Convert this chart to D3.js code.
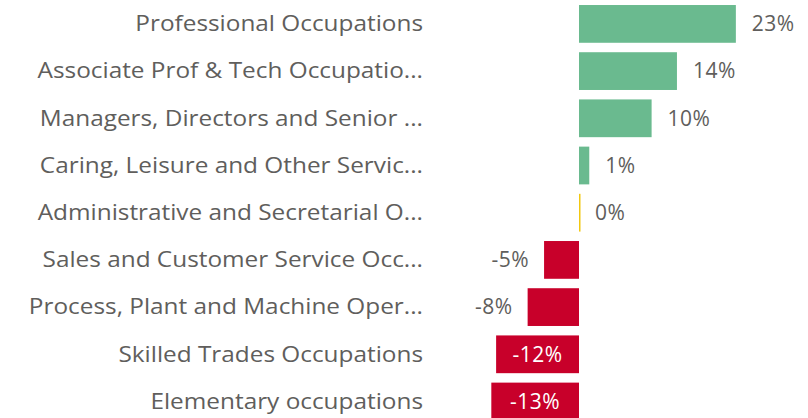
<!DOCTYPE html>
<html>
<head>
<meta charset="utf-8">
<script src="https://cdn.jsdelivr.net/npm/d3@7"></script>
<style>
  html, body { margin: 0; padding: 0; background: #fff; }
  svg { display: block; }
  text { font-family: "Segoe UI", "Open Sans", "Noto Sans", sans-serif; }
</style>
</head>
<body>
<div id="chart"></div>
<script>
var categories = [
  "Professional Occupations",
  "Associate Prof & Tech Occupatio...",
  "Managers, Directors and Senior ...",
  "Caring, Leisure and Other Servic...",
  "Administrative and Secretarial O...",
  "Sales and Customer Service Occ...",
  "Process, Plant and Machine Oper...",
  "Skilled Trades Occupations",
  "Elementary occupations"
];
var changes = [22.9, 14.3, 10.6, 1.5, 0, -5.1, -7.5, -12.1, -12.8];
var valueLabels = ["23%", "14%", "10%", "1%", "0%", "-5%", "-8%", "-12%", "-13%"];

var width = 808,
    height = 418;
var zeroX = 579,
    pxPerUnit = 6.85;
var labelRight = 423,
    labelStretch = 1.16;

var svg = d3.select("#chart")
  .append("svg")
    .attr("width", width)
    .attr("height", height);

var x = d3.scaleLinear()
  .domain([-15, 25])
  .range([zeroX - 15 * pxPerUnit, zeroX + 25 * pxPerUnit]);

var y = d3.scaleBand()
  .domain(categories)
  .range([0.3, 425.1])
  .paddingInner(0.2)
  .paddingOuter(0.1);

function barColor(v) {
  if (v > 0) return "#6aba8f";
  if (v < 0) return "#c8002a";
  return "#f2c811";
}

var rows = categories.map(function(c, i) {
  return { name: c, value: changes[i], label: valueLabels[i] };
});

// category labels (slightly wide glyphs, like the original font)
svg.append("g")
  .attr("transform", "scale(" + labelStretch + ",1)")
  .selectAll("text")
  .data(rows)
  .enter()
    .append("text")
    .attr("x", labelRight / labelStretch)
    .attr("y", function(d) { return y(d.name) + y.bandwidth() / 2; })
    .attr("dy", "0.35em")
    .attr("text-anchor", "end")
    .attr("font-size", "21px")
    .attr("fill", "#605e5c")
    .text(function(d) { return d.name; });

// bars
svg.append("g")
  .selectAll("rect")
  .data(rows)
  .enter()
    .append("rect")
    .attr("x", function(d) { return d.value === 0 ? x(0) : x(Math.min(0, d.value)); })
    .attr("y", function(d) { return y(d.name); })
    .attr("width", function(d) { return d.value === 0 ? 1.5 : Math.abs(x(d.value) - x(0)); })
    .attr("height", y.bandwidth())
    .attr("fill", function(d) { return barColor(d.value); });

// value labels
function inside(d) { return d.value <= -10; }

svg.append("g")
  .selectAll("text")
  .data(rows)
  .enter()
    .append("text")
    .attr("x", function(d) {
      if (inside(d)) return (x(d.value) + x(0)) / 2;
      if (d.value < 0) return x(d.value) - 15;
      return x(d.value) + 16;
    })
    .attr("y", function(d) { return y(d.name) + y.bandwidth() / 2; })
    .attr("dy", "0.35em")
    .attr("text-anchor", function(d) {
      if (inside(d)) return "middle";
      return d.value < 0 ? "end" : "start";
    })
    .attr("font-size", "21px")
    .attr("letter-spacing", "0.5px")
    .attr("fill", function(d) { return inside(d) ? "#ffffff" : "#605e5c"; })
    .text(function(d) { return d.label; });
</script>
</body>
</html>
